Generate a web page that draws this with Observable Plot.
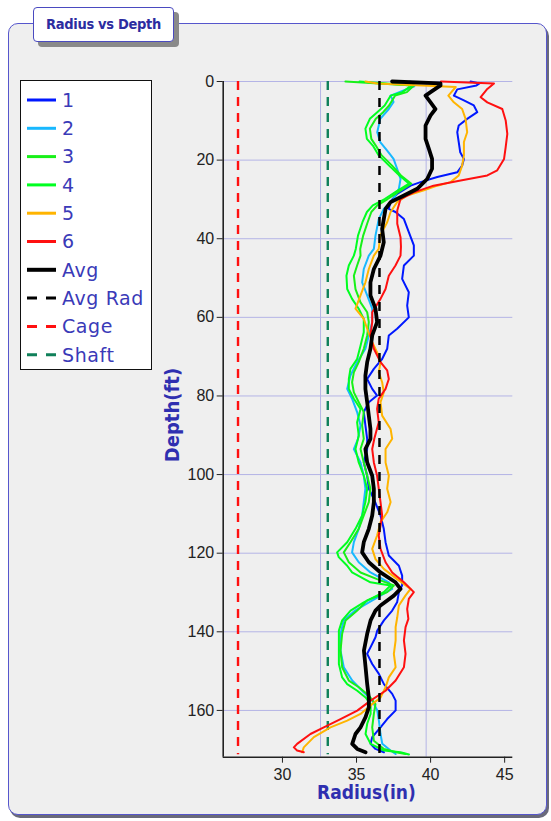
<!DOCTYPE html>
<html>
<head>
<meta charset="utf-8">
<script src="https://cdn.jsdelivr.net/npm/d3@7"></script>
<script src="https://cdn.jsdelivr.net/npm/@observablehq/plot@0.6"></script>
<style>
  html, body { margin: 0; padding: 0; background: #ffffff; }
  body { width: 551px; height: 821px; position: relative; overflow: hidden; font-family: "DejaVu Sans", sans-serif; }
  #panel { position: absolute; left: 8px; top: 23px; width: 537px; height: 790px; background: #efefef;
           border: 1.5px solid #5656cc; border-radius: 10px; box-shadow: 2px 3px 0 #6a6a7a; }
  #titlebox { position: absolute; left: 33px; top: 7px; width: 139px; height: 33px; background: #ffffff;
              border: 1.5px solid #4a4ac0; border-radius: 4px; box-shadow: 5px 5px 0 #8a8a8a; }
  #title { position: absolute; left: 0; top: 0; width: 139px; line-height: 33px; text-align: center;
           font-family: "DejaVu Sans Condensed", "DejaVu Sans", sans-serif; font-weight: bold; font-size: 14.5px; color: #2c2ca0; letter-spacing: -0.3px; }
  #legend { position: absolute; left: 20px; top: 80px; width: 130px; height: 288px; background: #ffffff; border: 1.5px solid #111; }
  #chart { position: absolute; left: 160px; top: 60px; }
  .axtitle { position: absolute; font-family: "DejaVu Sans Condensed", "DejaVu Sans", sans-serif; font-weight: bold; font-size: 19px; color: #2f2fb0; white-space: nowrap; }
</style>
</head>
<body>
<div id="panel"></div>
<div id="titlebox"><div id="title">Radius vs Depth</div></div>
<div id="legend"></div>
<div id="chart"></div>
<div class="axtitle" id="xtitle" style="left:317px; top:781px;">Radius(in)</div>
<div class="axtitle" id="ytitle" style="left:172px; top:415px; transform: translate(-50%,-50%) rotate(-90deg); font-size: 20px;">Depth(ft)</div>
<script>
// ---- data: [depth ft, radius in] ----
const series1 = [[0,42.7],[0.5,43.3],[1.0,43.1],[2.0,41.8],[3.6,41.57],[4.8,42.25],[6.1,42.92],[7.8,43.15],[9.5,42.47],[11.2,41.9],[12.9,41.8],[15.4,41.9],[18,42.0],[19.7,42.25],[21.4,42.13],[23.1,41.8],[24.3,40.45],[25.6,39.32],[26.5,38.65],[28.6,37.74],[30.5,37.3],[32.4,37.18],[33.2,37.63],[35,38.2],[38.3,38.53],[41.7,38.87],[44.3,38.87],[46.8,38.2],[50.2,38.08],[53.6,38.53],[57,38.42],[60,38.53],[62.9,37.74],[64.6,37.18],[68,37.07],[70.6,36.73],[73.1,36.17],[75.7,35.72],[78.2,36.06],[79.9,36.39],[81.6,35.83],[84.1,35.49],[87.5,35.6],[90.9,35.72],[93.5,35.72],[96.9,35.49],[100.3,35.72],[103.6,35.83],[106.2,36.17],[110.4,36.62],[113.8,36.84],[117.2,36.96],[120.6,37.18],[123.2,37.86],[125.7,38.08],[128.2,38.08],[129.9,37.86],[132.5,37.74],[134.6,37.41],[137.1,36.85],[139.7,36.4],[141.4,36.28],[143.9,35.95],[145.6,35.72],[148.2,36.06],[150.7,36.51],[153.3,36.85],[155.8,37.41],[157.5,37.64],[160,37.64],[162.2,37.07],[164.3,36.62],[166.8,36.06],[168.5,35.95],[169.8,36.28],[170.65,36.85]];
const series2 = [[0,38.6],[1.2,38.9],[3.6,37.3],[5.2,37.5],[7,37.18],[9.5,36.6],[12.9,36.4],[15.4,36.6],[17.6,37.07],[19.7,37.5],[22.2,37.74],[24.8,37.97],[27.3,37.86],[29.9,37.5],[32.4,36.84],[35,36.5],[39.2,36.28],[42.6,36.17],[44.3,35.83],[47.7,35.49],[51.1,35.38],[54.4,35.72],[57.8,36.06],[61.2,36.06],[64.6,35.83],[68,35.6],[71.4,35.04],[74.8,34.59],[78.2,34.37],[80.7,34.7],[84.1,35.04],[87.5,35.27],[90.9,35.1],[93.5,34.82],[96.9,35.27],[100.3,35.49],[103.6,35.6],[107,35.49],[110.4,35.38],[113.8,35.15],[117.2,34.82],[119.8,34.7],[122.3,35.15],[124.9,35.94],[127.4,37.18],[129.1,37.41],[130.8,36.62],[133.3,35.49],[134.6,34.9],[137.1,34.14],[140.5,33.92],[144.8,33.92],[149,34.14],[152.4,34.71],[155,35.38],[157.5,36.06],[160,36.4],[162.6,36.51],[166,36.62],[168.5,36.74],[170.2,37.3],[171.1,37.64]];
const series3 = [[0,34.25],[0.5,36.5],[1.0,38.87],[2.7,38.4],[3.6,37.6],[6.1,37.2],[7.8,36.8],[9.5,36.3],[12.0,35.9],[14.6,36.0],[16.3,36.3],[18.8,36.7],[21.4,37.4],[23.9,38.0],[26.0,38.7],[27.7,38.0],[29.9,37.1],[31.5,36.4],[33.2,36.0],[35.8,35.75],[39.2,35.45],[42.6,35.25],[44.3,35.27],[46.8,35.04],[49.4,34.82],[52.8,34.93],[56.2,35.27],[58.7,35.72],[61.2,35.83],[64.6,35.72],[68,35.49],[71.4,35.15],[74,34.82],[76.5,34.7],[79.1,34.82],[81.6,35.15],[84.1,35.49],[87.5,35.38],[90.9,35.49],[93.5,35.27],[96.9,35.49],[100.3,35.72],[103.6,35.94],[107,35.83],[110.4,35.49],[113.8,35.15],[117.2,34.59],[119.8,34.14],[122.3,34.48],[124.9,35.27],[126.6,36.39],[128.2,37.52],[129.9,37.07],[132,35.72],[134.6,35.05],[137.1,34.26],[140.5,34.03],[144.8,33.92],[149,34.03],[152.4,34.48],[154.1,35.16],[156.2,35.83],[158.4,36.28],[160.9,36.17],[164.3,36.06],[167.7,36.17],[169.8,36.85],[170.7,37.75],[171.1,38.31]];
const series4 = [[0,35.2],[0.5,37],[1.0,38.7],[2.7,38.1],[3.6,37.3],[6.1,36.9],[7.8,36.4],[9.5,35.9],[12.0,35.6],[14.6,35.7],[16.3,36.1],[18.8,36.5],[21.4,37.2],[23.9,37.9],[26.0,38.55],[27.7,37.8],[29.9,36.9],[31.5,36.1],[33.2,35.7],[35.8,35.4],[39.2,35.1],[42.6,34.95],[44.3,34.82],[46.8,34.48],[49.4,34.32],[52.8,34.37],[55.3,34.7],[57.8,35.15],[60.4,35.49],[63.8,35.49],[67.2,35.27],[70.6,35.04],[73.1,34.59],[75.7,34.48],[78.2,34.48],[80.7,34.82],[83.3,35.27],[86.7,35.04],[90.1,35.15],[93.5,34.93],[96.9,35.15],[100.3,35.49],[103.6,35.72],[107,35.6],[110.4,35.38],[113.8,34.93],[117.2,34.37],[119.8,33.69],[121,33.8],[123.2,34.37],[124.9,34.7],[127.4,35.94],[128.2,37.3],[129.9,36.84],[132.5,35.49],[134.6,34.6],[137.1,34.03],[139.7,33.81],[143.9,33.81],[148.2,33.81],[151.6,34.03],[153.3,34.37],[155,35.05],[156.7,35.61],[158.4,35.95],[160.9,35.95],[163.4,35.72],[166,35.61],[168.5,35.95],[170.2,36.85],[170.65,37.97],[171.2,38.54]];
const series5 = [[0,35.6],[0.5,36.4],[1.4,41.7],[3.6,41.2],[5.3,41.57],[7,42.13],[9.5,42.36],[12.9,42.47],[15.4,42.25],[18.8,42.25],[21.4,42.13],[23.9,41.9],[25.6,41.35],[26.5,40.45],[27.7,39.55],[29,38.42],[30.7,37.74],[33.2,37.3],[35.8,37.07],[39.2,36.6],[42.6,36.5],[44.3,36.17],[47.7,35.83],[51.1,35.6],[54.4,35.27],[57.8,34.93],[60.4,35.49],[62.9,35.72],[66.3,36.06],[68.9,36.39],[71.4,36.62],[74,36.5],[76.5,36.73],[79.1,36.84],[81.6,36.62],[85,36.73],[88.4,37.3],[90.9,37.41],[93.5,36.96],[96.9,36.96],[100.3,37.18],[103.6,37.07],[107,37.3],[109.6,37.07],[112.1,36.62],[115.5,36.39],[118.9,36.06],[121.5,36.28],[124,36.84],[126.6,37.74],[129.1,38.65],[130.8,38.3],[133.3,37.86],[136.3,37.75],[138.8,37.64],[142.2,37.64],[145.6,37.52],[149,37.64],[151.6,37.18],[154.1,36.96],[156.7,36.62],[158.4,36.06],[160.9,35.27],[162.6,34.37],[164.3,33.24],[166.8,32.12],[169.4,31.44],[170.65,31.33]];
const series6 = [[0,40.7],[0.5,44.28],[1.9,43.83],[4.0,43.38],[5.3,43.83],[7.0,44.84],[9.9,45.07],[13.3,45.18],[16.7,45.07],[19.7,44.96],[22.6,44.5],[23.9,43.83],[25.2,42.03],[26.5,40.2],[28.2,38.87],[29.9,37.97],[32.8,37.75],[36.2,37.75],[39.6,37.97],[42,38.0],[44.3,37.97],[46.8,37.63],[49.4,37.18],[52.8,36.96],[55.3,36.62],[58.7,36.06],[61.2,36.06],[64.6,35.94],[68,36.17],[71.4,36.62],[73.5,37.07],[75.7,37.18],[78.2,36.96],[80.7,36.5],[83.3,36.39],[86.7,36.5],[90.9,36.2],[93.5,36.06],[96.9,36.17],[100.3,36.39],[103.6,36.5],[107,36.62],[110.4,36.73],[113,36.62],[115.5,36.5],[118.9,36.62],[122.3,36.96],[124.9,37.41],[127.4,38.2],[129.9,38.87],[131.6,38.53],[134.2,38.42],[136.7,38.5],[138.8,38.31],[142.2,38.2],[145.6,38.31],[149,38.2],[152.4,37.64],[155,36.96],[157.5,35.95],[160.05,35.05],[162.2,33.92],[164.3,32.79],[166,31.89],[168.5,30.99],[169.4,30.77],[170.2,30.99],[170.65,31.44]];
const seriesAvg = [[0,37.4],[0.5,40.67],[1.0,40.67],[2.7,40.0],[3.6,39.66],[5.3,40.0],[7.0,40.33],[8.6,40.0],[11.2,39.66],[14.6,39.66],[17.1,39.88],[19.7,40.1],[22.2,40.1],[24.8,39.77],[27.3,39.1],[29,38.2],[30.7,37.3],[32.4,36.96],[35,36.84],[37.5,36.73],[40.9,36.84],[44.3,36.62],[47.7,36.17],[51.1,35.94],[54.4,35.94],[57.8,36.28],[61.2,36.39],[64.6,36.06],[68,35.94],[71.4,35.72],[74.8,35.6],[78.2,35.6],[81.6,35.72],[85,35.83],[88.4,35.94],[90.9,35.94],[93.5,35.6],[96.9,35.72],[100.3,36.06],[103.6,36.17],[107,36.17],[110.4,36.06],[113.8,35.83],[117.2,35.49],[119.8,35.38],[122.3,35.83],[124.9,36.62],[127.4,37.63],[129.1,37.97],[130.8,37.52],[133.3,36.62],[134.6,36.28],[137.1,35.95],[140.5,35.72],[144.8,35.5],[149,35.61],[153.3,35.72],[156.7,35.83],[159.2,35.83],[161.7,35.61],[164.3,35.27],[166,34.93],[168.5,34.71],[169.8,35.05],[170.65,35.61]];
const avgRad = 36.55;
const cage = 27.0;
const shaft = 33.06;
const refDepthRange = [0, 171.3];
const xTicks = [30, 35, 40, 45];
const yTicks = [0, 20, 40, 60, 80, 100, 120, 140, 160];
const xGridValues = [32.57, 39.7];
const legendLabels = ["1", "2", "3", "4", "5", "6", "Avg", "Avg Rad", "Cage", "Shaft"];
const legendColors = ["#0018ff", "#18b8ff", "#18f018", "#00ff20", "#ffb400", "#ff1010", "#000000", "#000000", "#ff1010", "#10805a"];
const legendDashed = [false, false, false, false, false, false, false, true, true, true];

// ---- legend ----
const legend = document.getElementById("legend");
const ls = d3.select(legend).append("svg").attr("width", 130).attr("height", 288);
legendLabels.forEach((lab, i) => {
  const cy = 19 + i * 28.3;
  ls.append("line").attr("x1", 6).attr("x2", 35).attr("y1", cy).attr("y2", cy)
    .attr("stroke", legendColors[i]).attr("stroke-width", i === 6 ? 4 : 3)
    .attr("stroke-dasharray", legendDashed[i] ? "10,9" : null);
  ls.append("text").attr("x", 41).attr("y", cy).attr("dy", "0.36em")
    .attr("fill", "#3a3ab8").attr("font-size", 19).attr("font-family", "DejaVu Sans, sans-serif")
    .attr("letter-spacing", 0.6).text(lab);
});

// ---- chart ----
const toRows = (arr) => arr.map(([d, r]) => ({depth: d, radius: r}));
const lineSeries = [
  [series1, legendColors[0]], [series2, legendColors[1]], [series3, legendColors[2]],
  [series4, legendColors[3]], [series5, legendColors[4]], [series6, legendColors[5]]
];
const dashed = [[cage, legendColors[8]], [shaft, legendColors[9]]];

const chart = Plot.plot({
  width: 380,
  height: 750,
  marginLeft: 62.7,
  marginRight: 27.7,
  marginTop: 21,
  marginBottom: 53.3,
  style: {background: "transparent", fontFamily: "Liberation Sans, Arial, sans-serif", fontSize: "16px", color: "#222"},
  x: {domain: [26, 45.55], label: null},
  y: {domain: [0, 171.9], reverse: true, label: null},
  marks: [
    Plot.ruleY(yTicks, {stroke: "#b4b4e6", strokeWidth: 1}),
    Plot.ruleX(xGridValues, {stroke: "#b4b4e6", strokeWidth: 1}),
    ...dashed.map(([v, c]) => Plot.ruleX([v], {y1: refDepthRange[0], y2: refDepthRange[1], stroke: c, strokeWidth: 2.4, strokeDasharray: "9,7"})),
    ...lineSeries.map(([s, c]) => Plot.line(toRows(s), {x: "radius", y: "depth", stroke: c, strokeWidth: 2, curve: "linear"})),
    Plot.line(toRows(seriesAvg), {x: "radius", y: "depth", stroke: "#000", strokeWidth: 3.8, strokeLinejoin: "round"}),
    Plot.ruleX([avgRad], {y1: refDepthRange[0], y2: refDepthRange[1], stroke: "#000", strokeWidth: 2.5, strokeDasharray: "9,8"}),
    Plot.axisX({ticks: xTicks, tickSize: 6, tickPadding: 5, label: null, stroke: "#222", fill: "#222"}),
    Plot.axisY({ticks: yTicks, tickSize: 6, tickPadding: 3, label: null, stroke: "#222", fill: "#222"}),
    Plot.ruleX([26], {stroke: "#222", strokeWidth: 1.6}),
    Plot.ruleY([171.9], {stroke: "#222", strokeWidth: 1.6})
  ]
});
document.getElementById("chart").appendChild(chart);
</script>
</body>
</html>
